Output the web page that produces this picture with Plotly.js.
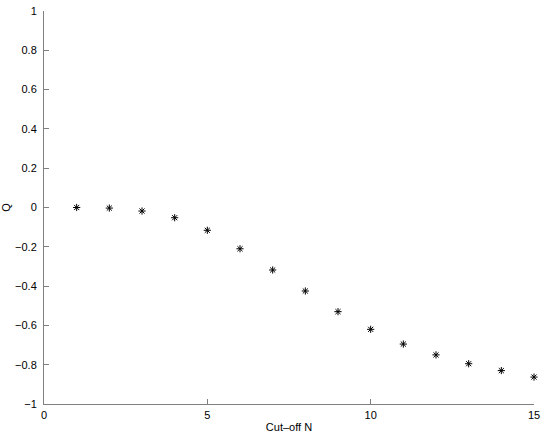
<!DOCTYPE html>
<html>
<head>
<meta charset="utf-8">
<script src="https://cdn.plot.ly/plotly-3.0.1.min.js"></script>
<style>
  html, body { margin: 0; padding: 0; background: #fff; }
  #chart { width: 545px; height: 436px; }
</style>
</head>
<body>
<div id="chart"></div>
<script>
// cut-off values and Q
var cutoff = [1, 2, 3, 4, 5, 6, 7, 8, 9, 10, 11, 12, 13, 14, 15]
var qValues = [0.0, -0.003, -0.018, -0.052, -0.116, -0.21, -0.318, -0.425, -0.53, -0.62, -0.695, -0.75, -0.795, -0.83, -0.863]
var xTicks = [0, 5, 10, 15]
var yTicks = [-1, -0.8, -0.6, -0.4, -0.2, 0, 0.2, 0.4, 0.6, 0.8, 1]

var axisColor = '#808080'

var data = [{
  type: 'scatter',
  mode: 'markers',
  x: cutoff,
  y: qValues,
  cliponaxis: false,
  marker: {
    symbol: 'asterisk-open',
    size: 6,
    color: '#000',
    line: { color: '#000', width: 1 }
  },
  hoverinfo: 'x+y'
}]

var layout = {
  width: 545,
  height: 436,
  autosize: false,
  showlegend: false,
  paper_bgcolor: '#fff',
  plot_bgcolor: '#fff',
  font: { family: 'Liberation Sans, Arial, sans-serif', size: 11, color: '#000' },
  margin: { l: 44, r: 11, t: 11, b: 32, pad: 0 },
  xaxis: {
    range: [0, 15],
    tickvals: xTicks,
    ticktext: xTicks.map(String),
    ticks: 'inside',
    ticklen: 5,
    tickcolor: axisColor,
    ticklabelstandoff: 1,
    showline: true,
    linecolor: axisColor,
    linewidth: 1,
    showgrid: false,
    zeroline: false,
    title: { text: 'Cut\u2013off N', font: { size: 11 }, standoff: 3 }
  },
  yaxis: {
    range: [-1, 1],
    tickvals: yTicks,
    ticktext: yTicks.map(function (v) { return v < 0 ? '\u2212' + String(-v) : String(v) }),
    ticks: 'inside',
    ticklen: 5,
    tickcolor: axisColor,
    ticklabelstandoff: 4,
    showline: true,
    linecolor: axisColor,
    linewidth: 1,
    showgrid: false,
    zeroline: false,
    title: { text: 'Q', font: { size: 11 }, standoff: 6 }
  }
}

Plotly.newPlot('chart', data, layout, { displayModeBar: false, staticPlot: true })
</script>
</body>
</html>
